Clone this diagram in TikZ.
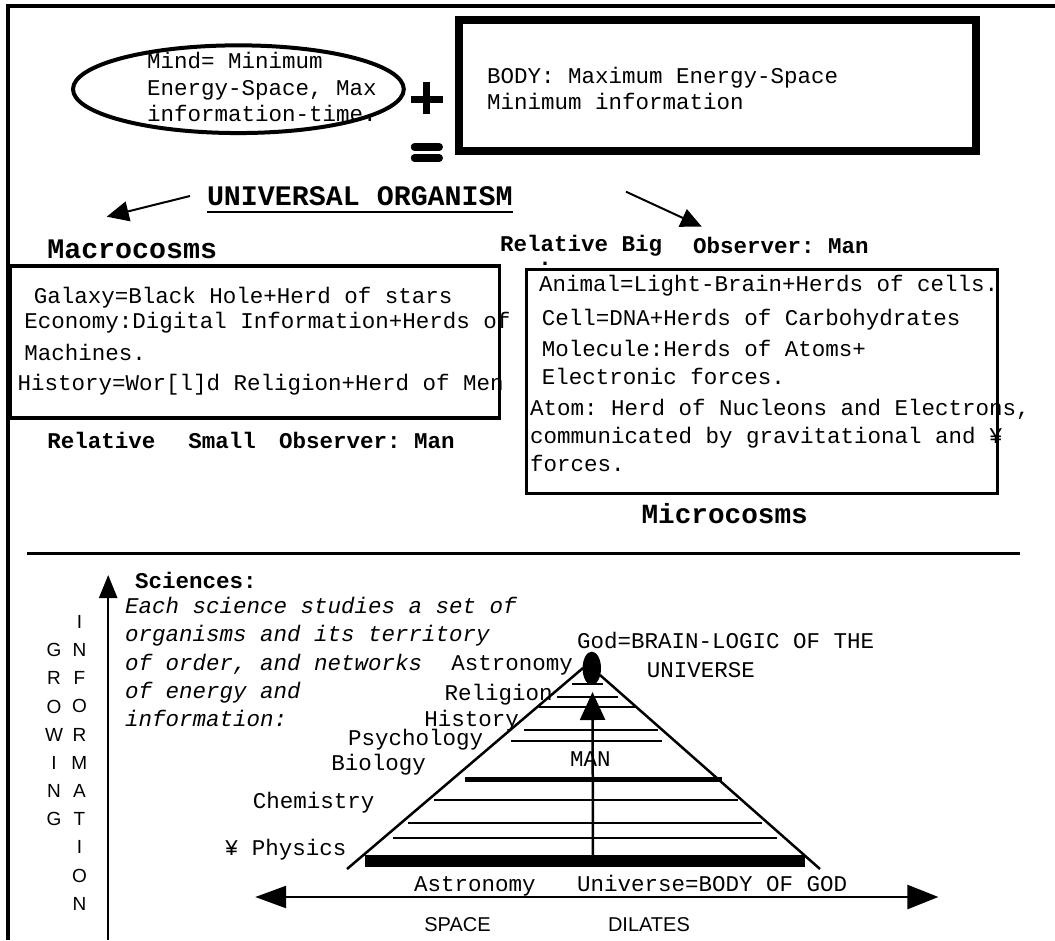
\documentclass[tikz,border=0pt]{standalone}
\usepackage{fontspec}
\setmainfont{Liberation Serif}
\setmonofont{Liberation Mono}
\setsansfont{Liberation Sans}
\usetikzlibrary{arrows.meta,shapes.geometric}
\begin{document}
\begin{tikzpicture}[x=1pt,y=-1pt,
  txt/.style={inner sep=0pt, outer sep=0pt, anchor=base west, font=\fontsize{22.5}{27}\selectfont\ttfamily},
  txtb/.style={txt, font=\fontsize{22.5}{27}\selectfont\ttfamily\bfseries},
  txtbig/.style={txt, font=\fontsize{28.3}{32}\selectfont\ttfamily\bfseries},
  txti/.style={txt, font=\fontsize{22.5}{27}\selectfont\ttfamily\itshape},
  vlet/.style={inner sep=0pt, outer sep=0pt, anchor=base, font=\fontsize{19}{22}\selectfont\sffamily},
  sans/.style={inner sep=0pt, outer sep=0pt, anchor=base west, font=\fontsize{20}{24}\selectfont\sffamily},
  ln/.style={line width=2.5pt},
  boxframe/.style={draw, inner sep=0pt, outer sep=0pt, anchor=north west},
]
\useasboundingbox (0,0) rectangle (1055,940);
% page frame
\coordinate (ftr) at (1055,6.2);
\coordinate (ftl) at (8.3,6.2);
\coordinate (fbl) at (8.3,940);
\draw[line width=4.3pt] (ftr) -- (ftl) -- (fbl);

% Mind ellipse
\node[draw, ellipse, line width=4pt, minimum width=330.8pt, minimum height=87.7pt, inner sep=0pt] (mind) at (238.4,89.2) {};
\node[txt] (mind1) at (147,68) {Mind= Minimum};
\node[txt] (mind2) at (147,95) {Energy-Space, Max};
\node[txt] (mind3) at (147,121.5) {information-time.};

% plus and equals
\draw[line width=7pt] (426.6,82) -- (426.6,114) (410.8,99) -- (442.9,99);
\draw[line width=7.5pt, line cap=round] (414.5,147) -- (439.2,147) (414.5,158) -- (439.2,158);

% Body box
\node[boxframe, line width=8.3pt, minimum width=517pt, minimum height=130.6pt] (body) at (458.8,20.2) {};
\node[txt] (body1) at (487,83.5) {BODY: Maximum Energy-Space};
\node[txt] (body2) at (487,109.5) {Minimum information};

% Universal organism
\node[txtbig] (uo) at (207,205) {UNIVERSAL ORGANISM};
\draw[line width=2.5pt] ([yshift=-7pt]uo.base west) -- ([yshift=-7pt]uo.base east);
\coordinate (a1s) at (190,196);
\coordinate (a1e) at (106.7,216.7);
\coordinate (a2s) at (626,191.7);
\coordinate (a2e) at (701.8,226.7);
\draw[line width=2pt, -{Triangle[length=22pt,width=20pt]}] (a1s) -- (a1e);
\draw[line width=2pt, -{Triangle[length=21pt,width=19pt]}] (a2s) -- (a2e);

% Macrocosms
\node[txtbig] (macro) at (47.3,258) {Macrocosms};
\node[txtb] (relbig) at (500,251.5) {Relative Big};
\node[txtb] (dot) at (538.3,265) {.};
\node[txtb] (obsbig) at (693,253) {Observer: Man};

\node[boxframe, line width=3.4pt, minimum width=489.6pt, minimum height=152pt] (macrobox) at (10.1,266) {};
\node[txt] (gal) at (33.8,303) {Galaxy=Black Hole+Herd of stars};
\node[txt] (eco) at (24.3,328) {Economy:Digital Information+Herds of};
\node[txt] (mach) at (24.3,360) {Machines.};
\node[txt] (hist) at (17.6,390) {History=Wor[l]d Religion+Herd of Men};

\node[txtb] (rel1) at (47.3,448) {Relative};
\node[txtb] (small) at (188.3,448) {Small};
\node[txtb] (obs2) at (279,448) {Observer: Man};

% Microcosms box
\node[boxframe, line width=3.5pt, minimum width=470.8pt, minimum height=224pt] (microbox) at (526.5,269.3) {};
\node[txt] (anim) at (539,291.5) {Animal=Light-Brain+Herds of cells.};
\node[txt] (cell) at (541.8,325) {Cell=DNA+Herds of Carbohydrates};
\node[txt] (mol) at (541.8,356) {Molecule:Herds of Atoms+};
\node[txt] (elec) at (541.8,384) {Electronic forces.};
\node[txt] (atom) at (530,415) {Atom: Herd of Nucleons and Electrons,};
\node[txt] (comm) at (530,443) {communicated by gravitational and ¥};
\node[txt] (forc) at (530,471.5) {forces.};
\node[txtbig, font=\fontsize{27.7}{32}\selectfont\ttfamily\bfseries] (micro) at (641.6,523) {Microcosms};

% separator
\coordinate (sepL) at (27,553.5);
\coordinate (sepR) at (1019.5,553.5);
\draw[line width=2.7pt] (sepL) -- (sepR);

% growing information axis
\coordinate (axB) at (108.2,940);
\coordinate (axT) at (108.2,575);
\draw[line width=2.5pt, -{Triangle[length=23pt,width=18pt]}] (axB) -- (axT);
\foreach \l [count=\i] in {I,N,F,O,R,M,A,T,I,O,N} {
  \node[vlet] (inf\i) at (79.4, {600.3+28.17*\i}) {\l};
}
\foreach \l [count=\i] in {G,R,O,W,I,N,G} {
  \node[vlet] (gro\i) at (54, {628.5+28.17*\i}) {\l};
}

% sciences text
\node[txtb] (sci) at (135.2,588) {Sciences:};
\node[txti] (it1) at (125,613) {Each science studies a set of};
\node[txti] (it2) at (125,641.5) {organisms and its territory};
\node[txti] (it3) at (125,670) {of order, and networks};
\node[txti] (it4) at (125,698) {of energy and};
\node[txti] (it5) at (125,726.5) {information:};

% science labels
\node[txt] (astro) at (451.3,670) {Astronomy};
\node[txt] (relig) at (444.6,700) {Religion};
\node[txt] (histo) at (424.3,726.5) {History};
\node[txt] (psych) at (348.2,745) {Psychology};
\node[txt] (biol) at (331.3,770) {Biology};
\node[txt] (chem) at (252.9,808) {Chemistry};
\node[txt] (phys) at (224.8,855) {¥ Physics};

\node[txt] (god1) at (577.2,648) {God=BRAIN-LOGIC OF THE};
\node[txt] (god2) at (646.8,677) {UNIVERSE};

% pyramid
\coordinate (apL) at (583,668);
\coordinate (bsL) at (347,869);
\coordinate (apR) at (600,675);
\coordinate (bsR) at (820,869);
\draw[ln] (apL) -- (bsL);
\draw[ln] (apR) -- (bsR);
\foreach \y/\a/\b in {684/572/603, 697/557/618, 707/539/635, 730/524/658, 741/511/662, 800/434/738, 823/408/762, 838/393/777} {
  \draw[ln] (\a,\y) -- (\b,\y);
}
\draw[line width=5pt] (465,779) -- (722,779);
\draw[line width=12pt] (365,861) -- (805,861);
\node[fill, ellipse, minimum width=18.4pt, minimum height=33.4pt, inner sep=0pt] (godhead) at (591.8,668.3) {};
\coordinate (manB) at (593,861);
\coordinate (manT) at (592.5,692);
\draw[line width=2.5pt, -{Triangle[length=28pt,width=25pt]}] (manB) -- (manT);
\node[txt] (man) at (570,766.5) {MAN};

% space dilates
\coordinate (spL) at (255.2,897);
\coordinate (spR) at (938.4,897);
\draw[line width=2.5pt, {Triangle[length=31pt,width=22pt]}-{Triangle[length=31pt,width=24pt]}] (spL) -- (spR);
\node[txt] (astro2) at (414,891.5) {Astronomy};
\node[txt] (univ) at (577,891.5) {Universe=BODY OF GOD};
\node[sans] (space) at (424.3,931) {SPACE};
\node[sans] (dil) at (608,931) {DILATES};
\end{tikzpicture}
\end{document}
